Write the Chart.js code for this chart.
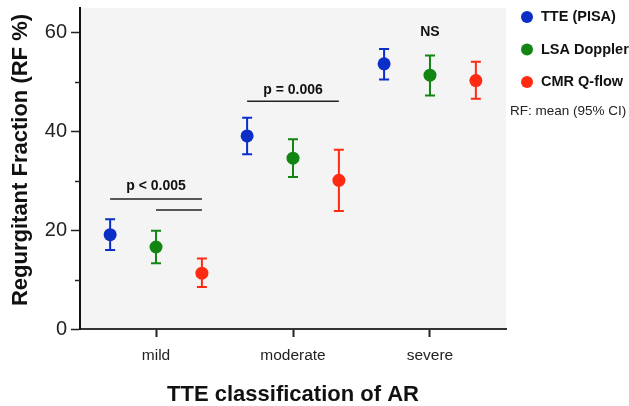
<!DOCTYPE html>
<html>
<head>
<meta charset="utf-8">
<script src="https://cdn.jsdelivr.net/npm/chart.js@4.4.1/dist/chart.umd.min.js"></script>
<style>
  html,body{margin:0;padding:0;background:#fff}
  #wrap{width:629px;height:406px;position:relative}
</style>
</head>
<body>
<div id="wrap"><canvas id="c" width="629" height="406"></canvas></div>
<script>
const categories = ['mild', 'moderate', 'severe'];
const seriesNames = ['TTE (PISA)', 'LSA Doppler', 'CMR Q-flow'];
const seriesColors = ['#0a2ec6', '#128512', '#ff2a12'];
// mean RF % per category, with 95% CI bounds
const ttePisa   = [19.1, 39.1, 53.7];
const ttePisaLo = [16.0, 35.4, 50.5];
const ttePisaHi = [22.2, 42.8, 56.7];
const lsaDoppler   = [16.6, 34.6, 51.4];
const lsaDopplerLo = [13.3, 30.8, 47.3];
const lsaDopplerHi = [19.9, 38.4, 55.4];
const cmrQflow   = [11.3, 30.1, 50.3];
const cmrQflowLo = [8.5, 23.9, 46.6];
const cmrQflowHi = [14.3, 36.3, 54.1];
const yTicks = [0, 10, 20, 30, 40, 50, 60];

const FONT = "'Liberation Sans', Arial, sans-serif";
const offsets = [-0.335, 0, 0.335];
const means = [ttePisa, lsaDoppler, cmrQflow];
const lows = [ttePisaLo, lsaDopplerLo, cmrQflowLo];
const highs = [ttePisaHi, lsaDopplerHi, cmrQflowHi];

const datasets = seriesNames.map((name, s) => ({
  label: name,
  data: means[s].map((v, i) => ({ x: i + 1 + offsets[s], y: v, lo: lows[s][i], hi: highs[s][i] })),
  backgroundColor: seriesColors[s],
  borderColor: seriesColors[s],
  pointRadius: 6.5,
  pointHoverRadius: 6.5,
  borderWidth: 0
}));

const plotBg = {
  id: 'plotBg',
  beforeDraw(chart){
    const { ctx, chartArea: a } = chart;
    ctx.save();
    ctx.fillStyle = '#f4f4f4';
    ctx.fillRect(a.left, a.top, a.right - a.left, a.bottom - a.top);
    ctx.restore();
  }
};

const errorBars = {
  id: 'errorBars',
  beforeDatasetsDraw(chart){
    const { ctx, scales: { x, y } } = chart;
    ctx.save();
    ctx.lineWidth = 2;
    chart.data.datasets.forEach(ds => {
      ctx.strokeStyle = ds.borderColor;
      ds.data.forEach(p => {
        const px = x.getPixelForValue(p.x);
        const top = y.getPixelForValue(p.hi), bot = y.getPixelForValue(p.lo);
        ctx.beginPath();
        ctx.moveTo(px, top); ctx.lineTo(px, bot);
        ctx.moveTo(px - 5, top); ctx.lineTo(px + 5, top);
        ctx.moveTo(px - 5, bot); ctx.lineTo(px + 5, bot);
        ctx.stroke();
      });
    });
    ctx.restore();
  }
};

// significance brackets: [x0, x1, y]
const brackets = [[1 - 0.335, 1 + 0.335, 26.3], [1, 1 + 0.335, 24.1], [2 - 0.335, 2 + 0.335, 46.1]];
const sigLabels = [['p < 0.005', 1, 29.0], ['p = 0.006', 2, 48.3], ['NS', 3, 60.1]];

const annotations = {
  id: 'annotations',
  afterDraw(chart){
    const { ctx, scales: { x, y } } = chart;
    ctx.save();
    // minor y ticks (shorter)
    ctx.strokeStyle = '#222';
    ctx.lineWidth = 1.5;
    yTicks.filter(v => v % 20 !== 0).forEach(v => {
      const py = Math.round(y.getPixelForValue(v)) + 0.5;
      ctx.beginPath(); ctx.moveTo(y.right - 5, py); ctx.lineTo(y.right, py); ctx.stroke();
    });
    brackets.forEach(([a, b, v]) => {
      ctx.beginPath();
      ctx.moveTo(x.getPixelForValue(a), y.getPixelForValue(v));
      ctx.lineTo(x.getPixelForValue(b), y.getPixelForValue(v));
      ctx.stroke();
    });
    ctx.fillStyle = '#111';
    ctx.font = 'bold 14px ' + FONT;
    ctx.textAlign = 'center'; ctx.textBaseline = 'middle';
    sigLabels.forEach(([t, xv, yv]) => ctx.fillText(t, x.getPixelForValue(xv), y.getPixelForValue(yv)));

    // y axis title (sits a bit above the axis centre in the original)
    ctx.save();
    ctx.translate(21, 160);
    ctx.rotate(-Math.PI / 2);
    ctx.font = 'bold 22px ' + FONT;
    ctx.fillText('Regurgitant Fraction (RF %)', 0, 0);
    ctx.restore();

    // legend
    ctx.textAlign = 'left';
    chart.data.datasets.forEach((ds, i) => {
      const ly = 17 + i * 32.5;
      ctx.fillStyle = ds.backgroundColor;
      ctx.beginPath(); ctx.arc(527, ly, 6, 0, Math.PI * 2); ctx.fill();
      ctx.fillStyle = '#111';
      ctx.font = 'bold 14.5px ' + FONT;
      ctx.fillText(ds.label, 541, ly);
    });
    ctx.font = '13.5px ' + FONT;
    ctx.fillStyle = '#222';
    ctx.fillText('RF: mean (95% CI)', 510, 111);
    ctx.restore();
  }
};

new Chart(document.getElementById('c'), {
  type: 'scatter',
  data: { datasets },
  options: {
    responsive: false,
    animation: false,
    events: [],
    layout: { padding: { top: 8, right: 123, left: 0, bottom: 0 } },
    plugins: { legend: { display: false }, tooltip: { enabled: false } },
    scales: {
      x: {
        type: 'linear', min: 0.445, max: 3.555,
        afterBuildTicks: s => { s.ticks = categories.map((c, i) => ({ value: i + 1 })); },
        afterFit: s => { s.height = 77; s.paddingLeft = 0; s.paddingRight = 0; },
        ticks: { callback: v => categories[v - 1], color: '#222', font: { family: FONT, size: 15.5 }, padding: 9 },
        grid: { drawOnChartArea: false, tickLength: 8, tickColor: '#222', tickWidth: 2 },
        border: { color: '#333', width: 2, dash: [3, 1] },
        title: { display: true, text: 'TTE classification of AR', color: '#111', font: { family: FONT, size: 22, weight: 'bold' }, padding: { top: 15, bottom: -2 } }
      },
      y: {
        min: 0, max: 65,
        afterBuildTicks: s => { s.ticks = yTicks.map(v => ({ value: v })); },
        afterFit: s => { s.width = 80; s.paddingTop = 0; s.paddingBottom = 0; },
        ticks: { callback: v => (v % 20 === 0 ? v : ''), color: '#222', font: { family: FONT, size: 20 }, padding: 4 },
        grid: { drawOnChartArea: false, tickLength: 9, tickColor: c => (c.tick && c.tick.value % 20 === 0 ? '#222' : 'rgba(0,0,0,0)'), tickWidth: 1.5 },
        border: { color: '#111', width: 2 },
        title: { display: false }
      }
    }
  },
  plugins: [plotBg, errorBars, annotations]
});
</script>
</body>
</html>
